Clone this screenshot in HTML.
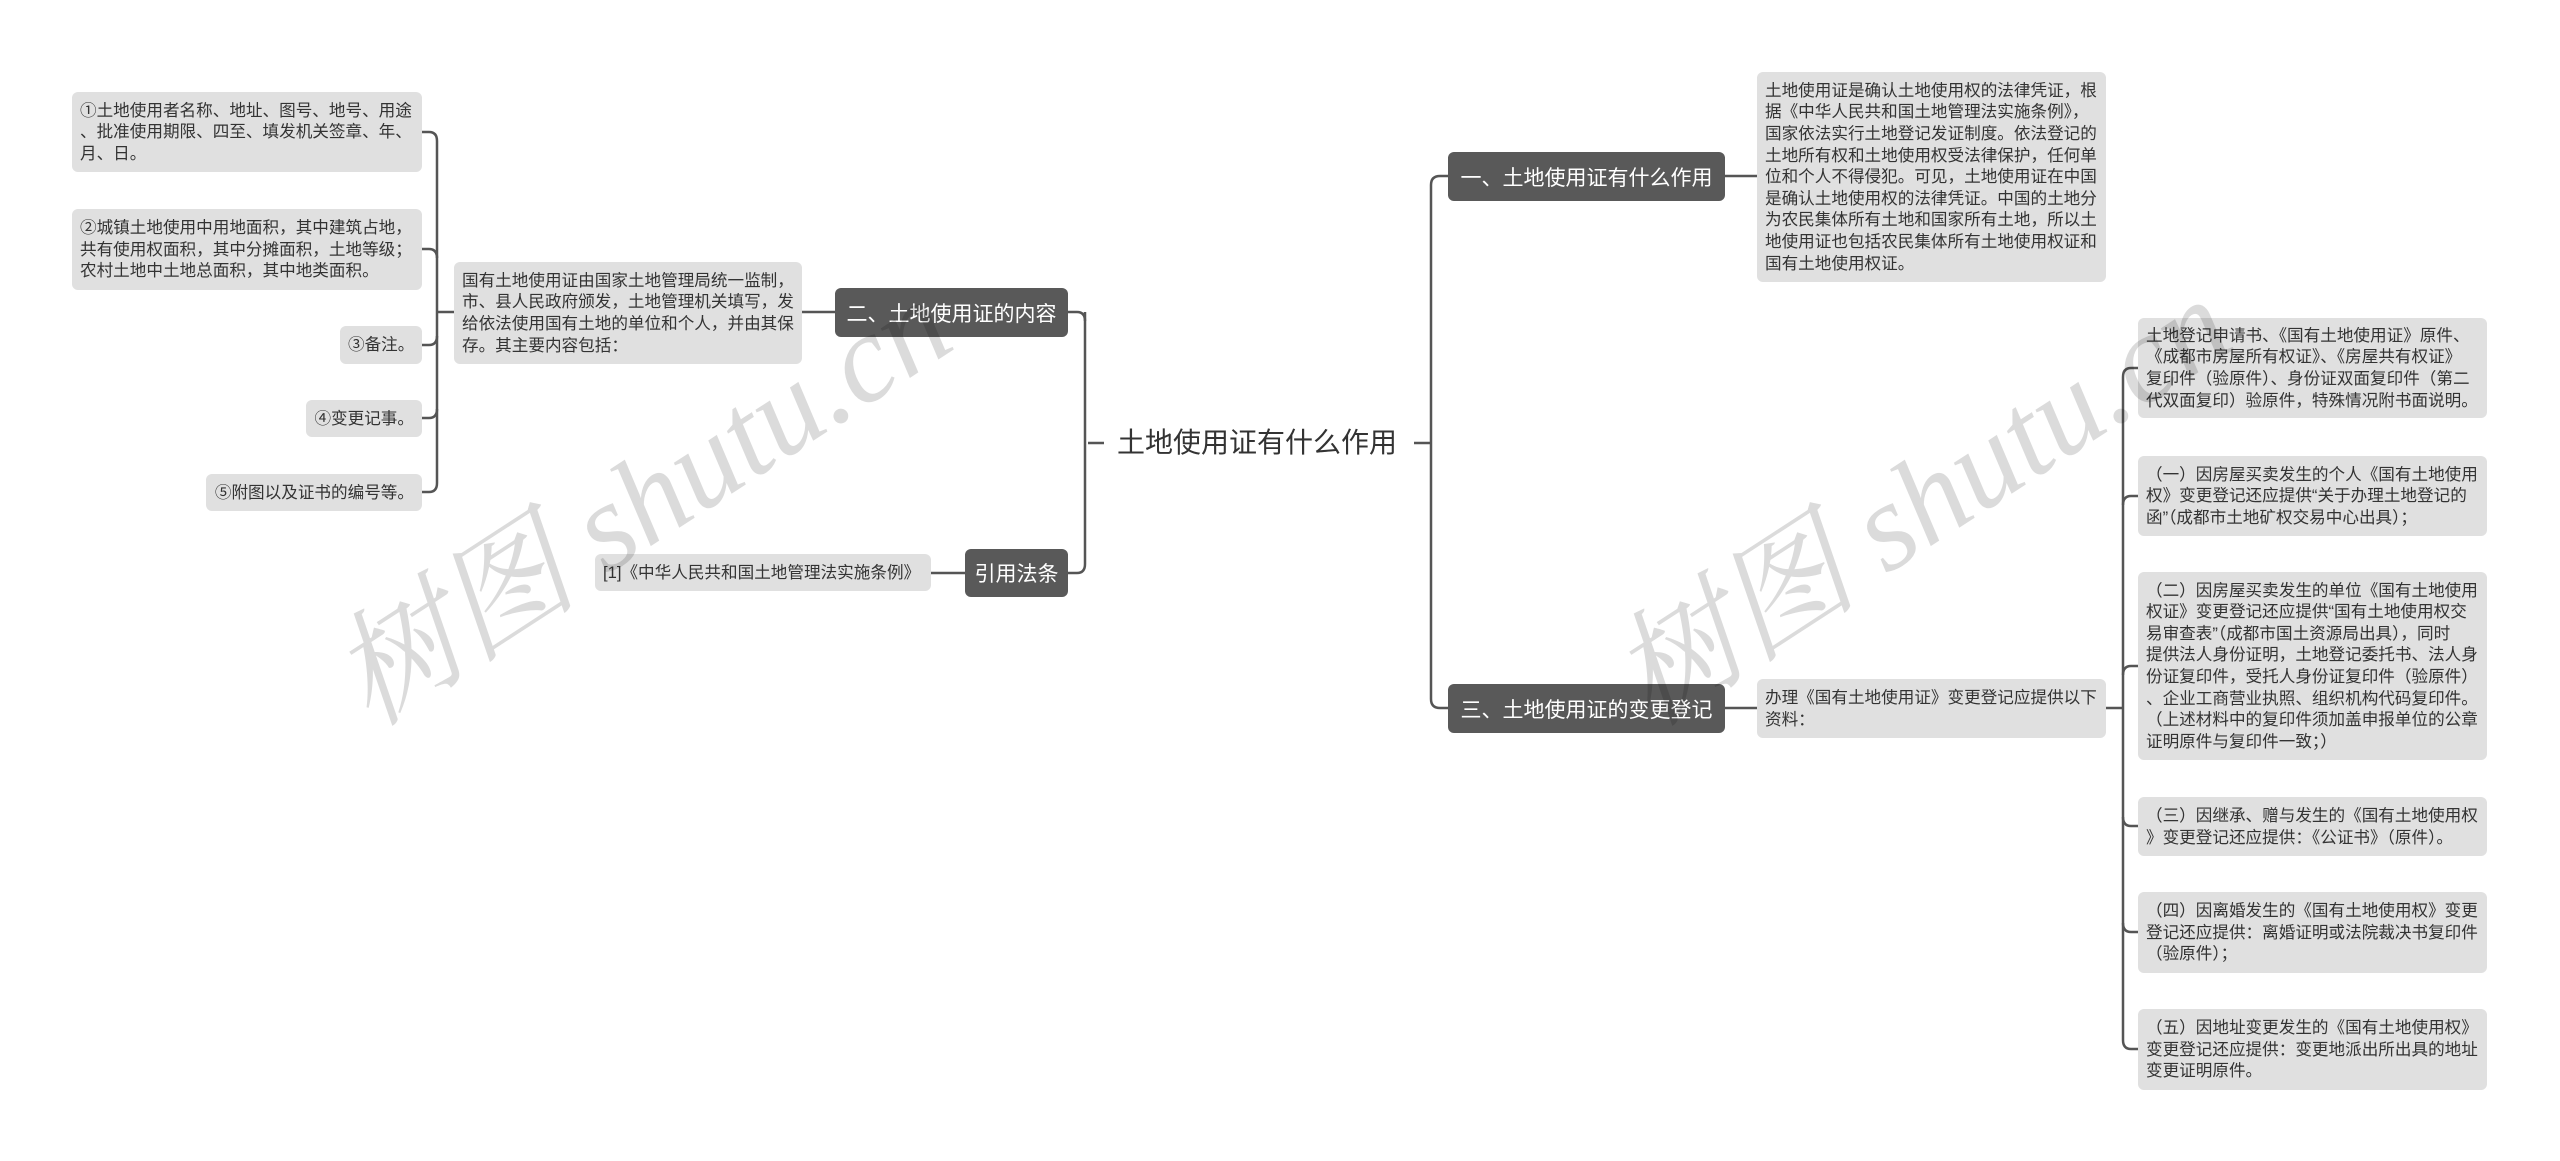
<!DOCTYPE html>
<html><head><meta charset="utf-8"><style>
html,body{margin:0;padding:0;background:#fff;}
body{width:2560px;height:1161px;position:relative;overflow:hidden;font-family:"Liberation Sans","Noto Sans CJK SC",sans-serif;}
.b{position:absolute;background:#e0e0e0;border-radius:6px;color:#333;font-size:16.6px;line-height:21.6px;box-sizing:border-box;padding:0 8px;display:flex;flex-direction:column;justify-content:center;white-space:nowrap;}
.r{text-align:right;}
.n{position:absolute;background:#595959;border-radius:6px;color:#fff;font-size:21px;box-sizing:border-box;display:flex;align-items:center;justify-content:center;white-space:nowrap;}
.wm{position:absolute;font-family:"Liberation Serif","Noto Serif CJK SC",serif;font-style:italic;font-size:125px;color:rgba(0,0,0,0.14);white-space:nowrap;transform:translate(-50%,-50%) rotate(-33deg);}
svg{position:absolute;left:0;top:0;}
</style></head><body>
<svg width="2560" height="1161" fill="none" stroke="#555" stroke-width="2.5">
<path d="M1088 443 H1104"/><path d="M1414 443 H1430"/>
<path d="M1085 312 V564"/>
<path d="M1085 321 Q1085 312 1077 312 H1068"/>
<path d="M1085 564 Q1085 573 1077 573 H1068"/>
<path d="M1431 443 V185 Q1431 176 1440 176 H1448"/>
<path d="M1431 443 V699 Q1431 708 1440 708 H1448"/>
<path d="M1725 176 H1757"/>
<path d="M1725 708 H1757"/>
<path d="M2106 708 H2123"/>
<path d="M2123 708 V377 Q2123 368 2131 368 H2138"/>
<path d="M2123 505 Q2123 496 2131 496 H2138"/>
<path d="M2123 675 Q2123 666 2131 666 H2138"/>
<path d="M2123 708 V1040 Q2123 1049 2131 1049 H2138"/>
<path d="M2123 817 Q2123 826 2131 826 H2138"/>
<path d="M2123 923 Q2123 932 2131 932 H2138"/>
<path d="M802 312 H835"/>
<path d="M931 573 H965"/>
<path d="M454 312 H437"/>
<path d="M437 312 V141 Q437 132 429 132 H421"/>
<path d="M437 258 Q437 249 429 249 H421"/>
<path d="M437 336 Q437 345 429 345 H421"/>
<path d="M437 312 V483 Q437 492 429 492 H421"/>
<path d="M437 409 Q437 418 429 418 H421"/>
</svg>

<div style="position:absolute;left:1117px;top:424px;font-size:28px;color:#333;white-space:nowrap;line-height:38px;">土地使用证有什么作用</div>

<div class="n" style="left:835px;top:288px;width:233px;height:49px;">二、土地使用证的内容</div>
<div class="n" style="left:965px;top:549px;width:103px;height:48px;">引用法条</div>
<div class="n" style="left:1448px;top:152px;width:277px;height:49px;">一、土地使用证有什么作用</div>
<div class="n" style="left:1448px;top:684px;width:277px;height:49px;">三、土地使用证的变更登记</div>

<div class="b" style="left:72px;top:92px;width:350px;height:80px;">①土地使用者名称、地址、图号、地号、用途<br>、批准使用期限、四至、填发机关签章、年、<br>月、日。</div>
<div class="b" style="left:72px;top:209px;width:350px;height:81px;">②城镇土地使用中用地面积，其中建筑占地，<br>共有使用权面积，其中分摊面积，土地等级；<br>农村土地中土地总面积，其中地类面积。</div>
<div class="b r" style="left:340px;top:326px;width:82px;height:38px;">③备注。</div>
<div class="b r" style="left:306px;top:400px;width:116px;height:37px;">④变更记事。</div>
<div class="b r" style="left:206px;top:474px;width:216px;height:37px;">⑤附图以及证书的编号等。</div>
<div class="b" style="left:454px;top:262px;width:348px;height:102px;">国有土地使用证由国家土地管理局统一监制，<br>市、县人民政府颁发，土地管理机关填写，发<br>给依法使用国有土地的单位和个人，并由其保<br>存。其主要内容包括：</div>
<div class="b" style="left:595px;top:554px;width:336px;height:37px;">[1]《中华人民共和国土地管理法实施条例》</div>

<div class="b" style="left:1757px;top:72px;width:349px;height:210px;">土地使用证是确认土地使用权的法律凭证，根<br>据《中华人民共和国土地管理法实施条例》，<br>国家依法实行土地登记发证制度。依法登记的<br>土地所有权和土地使用权受法律保护，任何单<br>位和个人不得侵犯。可见，土地使用证在中国<br>是确认土地使用权的法律凭证。中国的土地分<br>为农民集体所有土地和国家所有土地，所以土<br>地使用证也包括农民集体所有土地使用权证和<br>国有土地使用权证。</div>
<div class="b" style="left:1757px;top:679px;width:349px;height:59px;">办理《国有土地使用证》变更登记应提供以下<br>资料：</div>

<div class="b" style="left:2138px;top:318px;width:349px;height:100px;">土地登记申请书、《国有土地使用证》原件、<br>《成都市房屋所有权证》、《房屋共有权证》<br>复印件（验原件）、身份证双面复印件（第二<br>代双面复印）验原件，特殊情况附书面说明。</div>
<div class="b" style="left:2138px;top:456px;width:349px;height:80px;">（一）因房屋买卖发生的个人《国有土地使用<br>权》变更登记还应提供“关于办理土地登记的<br>函”（成都市土地矿权交易中心出具）；</div>
<div class="b" style="left:2138px;top:572px;width:349px;height:188px;">（二）因房屋买卖发生的单位《国有土地使用<br>权证》变更登记还应提供“国有土地使用权交<br>易审查表”（成都市国土资源局出具），同时<br>提供法人身份证明，土地登记委托书、法人身<br>份证复印件，受托人身份证复印件（验原件）<br>、企业工商营业执照、组织机构代码复印件。<br>（上述材料中的复印件须加盖申报单位的公章<br>证明原件与复印件一致；）</div>
<div class="b" style="left:2138px;top:797px;width:349px;height:59px;">（三）因继承、赠与发生的《国有土地使用权<br>》变更登记还应提供：《公证书》（原件）。</div>
<div class="b" style="left:2138px;top:892px;width:349px;height:81px;">（四）因离婚发生的《国有土地使用权》变更<br>登记还应提供：离婚证明或法院裁决书复印件<br>（验原件）；</div>
<div class="b" style="left:2138px;top:1009px;width:349px;height:81px;">（五）因地址变更发生的《国有土地使用权》<br>变更登记还应提供：变更地派出所出具的地址<br>变更证明原件。</div>

<div class="wm" style="left:635px;top:492px;">树图 shutu.cn</div>
<div class="wm" style="left:1915px;top:492px;">树图 shutu.cn</div>
</body></html>
